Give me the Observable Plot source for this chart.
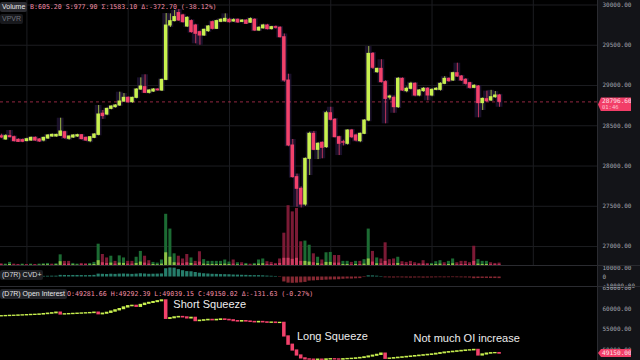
<!DOCTYPE html>
<html><head><meta charset="utf-8">
<script src="https://cdn.jsdelivr.net/npm/d3@7"></script>
<script src="https://cdn.jsdelivr.net/npm/@observablehq/plot@0.6"></script>
<style>
html,body{margin:0;padding:0;background:#000;}
#wrap{position:relative;width:640px;height:360px;overflow:hidden;background:#000;}
.axisbg{position:absolute;left:597px;top:0;width:43px;height:360px;background:#131418;border-left:1px solid #2a2b30;box-sizing:border-box;}
.pane{position:absolute;left:0;}
.pane svg{display:block;overflow:visible;}
.sep{position:absolute;left:0;width:640px;height:1px;background:#2a2b30;}
.badge{position:absolute;left:0;font-family:"Liberation Sans",sans-serif;font-size:7px;line-height:10px;padding:0 2px;border-radius:2px;white-space:nowrap;}
.vals{position:absolute;font-family:"DejaVu Sans Mono",monospace;font-size:6.6px;line-height:10px;color:#f08da5;white-space:nowrap;}
.plabel{position:absolute;left:598px;width:33px;background:#f23e68;color:#ffe3ea;font-family:"DejaVu Sans Mono",monospace;clip-path:polygon(3px 0,100% 0,100% 100%,3px 100%,0 50%);box-sizing:border-box;padding-left:4px;}
</style></head><body><div id="wrap"><div class="axisbg"></div></div>
<script>
const priceOpen = [28370,28330,28371,28358,28325,28322,28310,28317,28350,28330,
 28317,28342,28367,28367,28375,28420,28338,28354,28367,28383,
 28350,28309,28350,28387,28650,28640,28710,28731,28752,28801,
 28847,28793,28847,28950,28980,28909,28925,28950,28938,29070,
 29745,29800,29900,29870,29733,29800,29745,29663,29621,29675,
 29787,29704,29791,29795,29816,29795,29816,29790,29806,29780,
 29816,29683,29710,29745,29700,29725,29717,29600,29062,28255,
 27862,27717,27522,28089,28400,28201,28288,28234,28656,28574,
 28358,28296,28276,28441,28379,28309,28400,28565,29393,29166,
 29207,29042,28850,28847,28731,29083,28930,28959,29021,28876,
 28930,28959,28876,28946,28946,29021,29083,29063,29153,29112,
 29071,29029,28971,28988,28781,28830,28814,28855,28876];
const priceHigh = [28395,28390,28441,28372,28338,28335,28345,28360,28362,28340,
 28358,28390,28398,28395,28594,28432,28372,28390,28395,28392,
 28360,28365,28400,28752,28690,28720,28748,28762,28917,28900,
 28860,28855,28960,29095,29133,28948,28962,28960,29080,29894,
 29890,29932,29945,29885,29855,29815,29760,29675,29700,29745,
 29800,29812,29830,29890,29835,29830,29828,29820,29818,29840,
 29830,29730,29760,29760,29735,29740,29730,29640,29140,28330,
 27900,27740,28100,28420,28430,28290,28300,28680,28730,28590,
 28370,28320,28450,28455,28395,28410,28575,29484,29410,29215,
 29320,29060,28880,28870,29100,29095,28980,29040,29035,28950,
 28975,28975,28960,28975,29035,29110,29095,29165,29277,29125,
 29085,29040,29010,29000,28845,28930,28940,28925,28890];
const priceLow = [28340,28320,28350,28298,28292,28290,28300,28305,28305,28292,
 28300,28330,28355,28358,28365,28330,28320,28342,28355,28325,
 28305,28290,28340,28375,28580,28625,28698,28720,28740,28790,
 28780,28780,28835,28940,28900,28895,28915,28930,28925,29060,
 29720,29790,29795,29775,29720,29650,29518,29500,29610,29660,
 29690,29695,29780,29785,29775,29785,29770,29780,29758,29770,
 29670,29670,29700,29690,29690,29700,29590,29040,28240,27850,
 27489,27480,27500,27882,28190,28080,28090,28220,28560,28350,
 28130,28250,28260,28340,28300,28290,28390,28550,29200,29150,
 29030,28524,28820,28655,28715,28925,28910,28945,28860,28860,
 28915,28810,28860,28935,28930,29010,29040,29050,29100,29050,
 29005,28955,28960,28599,28690,28790,28800,28840,28730];
const priceClose = [28355,28371,28358,28309,28300,28302,28333,28350,28317,28305,
 28350,28379,28387,28387,28429,28350,28367,28379,28383,28334,
 28317,28358,28392,28640,28620,28710,28739,28752,28801,28847,
 28793,28847,28950,28988,28909,28938,28950,28940,29070,29745,
 29799,29850,29808,29787,29840,29663,29642,29621,29692,29733,
 29704,29800,29816,29828,29787,29812,29784,29806,29766,29825,
 29683,29717,29745,29700,29725,29717,29600,29062,28255,27862,
 27717,27522,28089,28400,28201,28276,28226,28656,28574,28358,
 28276,28290,28441,28358,28317,28400,28565,29393,29220,29207,
 29042,28834,28863,28731,29083,28938,28959,29021,28876,28938,
 28959,28876,28946,28959,29021,29083,29054,29153,29112,29063,
 29021,28971,28996,28781,28834,28805,28855,28876,28796.6];
const volume = [5,4,9,4,3,4,3,4,3,4,
 5,6,4,5,31,12,12,6,4,6,
 5,6,9,62,32,22,27,12,28,22,
 12,12,24,41,27,14,9,7,16,149,
 106,34,27,19,32,22,12,40,17,12,
 12,12,12,16,10,16,8,8,6,4,
 6,16,19,11,9,6,19,94,174,156,
 166,69,71,59,34,24,16,37,38,29,
 29,12,12,9,12,12,17,106,41,22,
 19,66,17,19,24,11,9,12,8,6,
 14,6,6,11,14,8,12,19,8,12,
 12,8,56,17,12,12,8,6,7];
const volDelta = [-2,1,3,-1,-1,1,-1,1,-1,1,
 2,2,-1,2,11,-4,-4,2,1,-2,
 -2,2,3,14,-8,-6,7,-4,7,6,
 -4,-4,6,10,-7,-4,3,2,4,37,
 24,8,-7,-5,-8,6,-4,-10,4,3,
 3,3,3,4,3,-4,2,-2,2,-1,
 2,4,5,-3,-3,-2,-6,-21,-21,-18,
 -21,-12,12,10,-8,6,-4,9,9,-7,
 -7,3,3,-2,3,-3,4,19,-10,5,
 -5,-12,-4,-5,6,-3,-2,-3,-2,-2,
 -4,-2,2,3,4,-2,3,5,-2,-3,
 -3,-2,-12,4,3,3,-2,-2,-2];
const cvd = [300,400,500,500,500,600,600,600,600,700,
 700,800,900,900,1800,1700,1600,1700,1700,1600,
 1500,1600,1800,3200,3000,2800,3100,2900,3200,3300,
 3100,2900,3200,3600,3300,3000,3100,3200,3400,9200,
 10000,9800,8200,7000,6000,5800,5000,4200,3600,3300,
 3000,2900,2700,2600,2500,2200,2100,1900,1800,1600,
 1500,1500,1300,1000,800,600,-500,-5500,-6800,-7000,
 -6800,-6500,-6000,-4500,-4300,-4000,-3800,-3500,-3300,-3200,
 -3000,-2500,-2200,-2300,-2000,-1800,-600,1300,1200,900,
 500,-900,-1000,-1100,-900,-1000,-1100,-1200,-1100,-1000,
 -1200,-1100,-1000,-900,-800,-900,-800,-700,-800,-900,
 -1000,-1100,-1900,-1700,-1600,-1600,-1700,-1700,-1800];
const oiFirstOpen = 58150;
const oiClose = [58190,58230,58280,58300,58360,58400,58450,58500,58530,58600,
 58700,58800,58900,59050,58600,58650,58700,58750,58800,58850,
 58900,58950,59050,58650,58800,59000,59300,59600,59900,60300,
 60600,60700,60450,60900,61200,61400,61600,61800,62000,57550,
 57700,57900,58000,57900,57650,57800,57000,57100,57200,57300,
 57200,57300,57400,57300,57200,57000,56900,57000,56900,56800,
 56700,56800,56700,56600,56650,56550,56580,53300,51300,49900,
 48700,48000,47750,47700,47650,47700,47650,47750,47800,47750,
 47700,47800,47850,47900,48000,48100,48250,48450,48650,48850,
 49150,47900,47950,48050,48150,48250,48350,48450,48550,48650,
 48750,48850,48950,49100,49250,49400,49500,49600,49700,49800,
 49900,49950,50050,48700,48950,49150,49250,49280,49150];
const priceTicks = [27000,27500,28000,28500,29000,29500,30000];
const cvdTicks = [-10000,0,10000];
const oiTicks = [50000,55000,60000,65000];
const gridIdx = [6,30,54,78,102,126];
const notes = [
  {text:"Short Squeeze", i:40.7, v:61012},
  {text:"Long Squeeze", i:70.0, v:53357},
  {text:"Not much OI increase", i:97.6, v:52800}
];
const volumeHeader = "B:605.20 S:977.90 Σ:1583.10 Δ:-372.70 (-38.12%)";
const oiHeader = "O:49281.66 H:49292.39 L:49039.15 C:49150.02 Δ:-131.63 (-0.27%)";
const lastTime = "01:46";

const UP = "#c8f04f", DOWN = "#f2416b";
const idx = d3.range(priceOpen.length);
const candles = idx.map(i => ({i, o:priceOpen[i], h:priceHigh[i], l:priceLow[i], c:priceClose[i]}));
const vols = idx.map(i => ({i, v:volume[i], d:volDelta[i]}));
const cvds = idx.map(i => ({i, v:cvd[i]}));
const ois = idx.map(i => ({i, o: i === 0 ? oiFirstOpen : oiClose[i-1], c: oiClose[i]}));
const lastPrice = priceClose[priceClose.length-1];
const lastOI = oiClose[oiClose.length-1];

const xOpt = {type:"linear", domain:[-0.26, 141.21], axis:null};
const base = {width:640, marginLeft:0, marginRight:43, marginTop:0, marginBottom:0,
  style:{background:"transparent", color:"#a3a6af", fontFamily:"DejaVu Sans Mono, monospace", fontSize:"6px", overflow:"visible"}};
const fmt = d => d === 0 ? "0" : d.toFixed(2);
const wrap = document.getElementById("wrap");
function place(el, top){ const d = document.createElement("div"); d.className="pane"; d.style.top = top+"px"; d.appendChild(el); wrap.appendChild(d); return el; }

// price pane
const priceChart = Plot.plot({...base, height:265, x:xOpt,
  y:{domain:[26764.6, 30055.9], axis:"right", ticks:priceTicks, tickFormat:fmt, tickSize:0, tickPadding:5, label:null},
  marks:[
    Plot.ruleY(priceTicks, {stroke:"#1c1d21"}),
    Plot.ruleX(gridIdx, {stroke:"#1c1d21"}),
    Plot.rect(candles, {x1:d=>d.i-0.8, x2:d=>d.i+0.8, y1:"l", y2:"h", fill:"#23173a", fillOpacity:0.7}),
    Plot.ruleY([lastPrice], {stroke:DOWN, strokeDasharray:"3,3", strokeOpacity:0.6}),
    Plot.ruleX(candles, {x:"i", y1:"l", y2:"h", stroke:d=>d.c>=d.o?UP:DOWN, strokeOpacity:0.75}),
    Plot.rect(candles, {x1:d=>d.i-0.42, x2:d=>d.i+0.42, y1:"o", y2:"c", fill:d=>d.c>=d.o?UP:DOWN, insetTop:-0.5, insetBottom:-0.5})
  ]});
place(priceChart, 0);

// volume overlay
const volChart = Plot.plot({...base, height:70, x:xOpt,
  y:{domain:[0, 203.7], axis:null},
  marks:[
    Plot.rect(vols, {x1:d=>d.i-0.36, x2:d=>d.i+0.36, y1:0, y2:"v", fill:d=>d.d>=0?"#1c6b33":"#7b1a35"}),
    Plot.rect(vols, {x1:d=>d.i-0.36, x2:d=>d.i+0.36, y1:0, y2:d=>Math.abs(d.d), fill:d=>d.d>=0?"#a9d84b":"#e0446c", fillOpacity:0.8})
  ]});
place(volChart, 195);

// CVD pane
const cvdChart = Plot.plot({...base, height:21, x:xOpt,
  y:{domain:[-10556, 12778], axis:"right", ticks:cvdTicks, tickFormat:fmt, tickSize:0, tickPadding:5, label:null},
  marks:[
    Plot.rect(cvds, {x1:d=>d.i-0.38, x2:d=>d.i+0.38, y1:0, y2:"v", fill:d=>d.v>=0?"#2f9c86":"#a8323f", fillOpacity:0.8})
  ]});
place(cvdChart, 265);

// OI pane
const oiChart = Plot.plot({...base, height:74, x:xOpt,
  y:{domain:[47488, 65359], axis:"right", ticks:oiTicks, tickFormat:fmt, tickSize:0, tickPadding:5, label:null},
  marks:[
    Plot.rect(ois, {x1:d=>d.i-0.42, x2:d=>d.i+0.42, y1:"o", y2:"c", fill:d=>d.c>=d.o?UP:DOWN, insetTop:-0.6, insetBottom:-0.6}),
    Plot.text(notes, {x:"i", y:"v", text:"text", textAnchor:"start", lineAnchor:"middle", fill:"#ececec", fontSize:11, fontFamily:"Liberation Sans, Arial, sans-serif"})
  ]});
place(oiChart, 286);

// separators
[265, 286].forEach(t => { const s = document.createElement("div"); s.className="sep"; s.style.top = t+"px"; wrap.appendChild(s); });

// header badges
function badge(text, top, bg, color){ const b=document.createElement("div"); b.className="badge"; b.textContent=text; b.style.top=top+"px"; b.style.background=bg; b.style.color=color; wrap.appendChild(b); return b; }
function vals(text, left, top){ const v=document.createElement("div"); v.className="vals"; v.textContent=text; v.style.left=left+"px"; v.style.top=top+"px"; wrap.appendChild(v); }
badge("Volume", 2, "#2c2d33", "#e8e8ea");
vals(volumeHeader, 30, 2);
badge("VPVR", 14, "#18191d", "#6f727a");
badge("(D7R) CVD+", 270, "#1d1e22", "#d8d9dd");
badge("(D7R) Open Interest", 289, "#222328", "#e8e8ea");
vals(oiHeader, 67, 289);

// last value labels
const py = priceChart.scale("y").apply(lastPrice);
const pl = document.createElement("div"); pl.className="plabel";
pl.style.top = (py-4)+"px"; pl.style.height="14px";
pl.innerHTML = '<div style="font-size:6.2px;line-height:7px">'+lastPrice.toFixed(2)+'</div><div style="font-size:5.5px;line-height:6px;color:#ffc2cf">'+lastTime+'</div>';
wrap.appendChild(pl);
const oy = 286 + oiChart.scale("y").apply(lastOI);
const ol = document.createElement("div"); ol.className="plabel";
ol.style.top = (oy-4)+"px"; ol.style.height="8px";
ol.innerHTML = '<div style="font-size:6.2px;line-height:8px">'+lastOI.toFixed(2)+'</div>';
wrap.appendChild(ol);
</script></body></html>
